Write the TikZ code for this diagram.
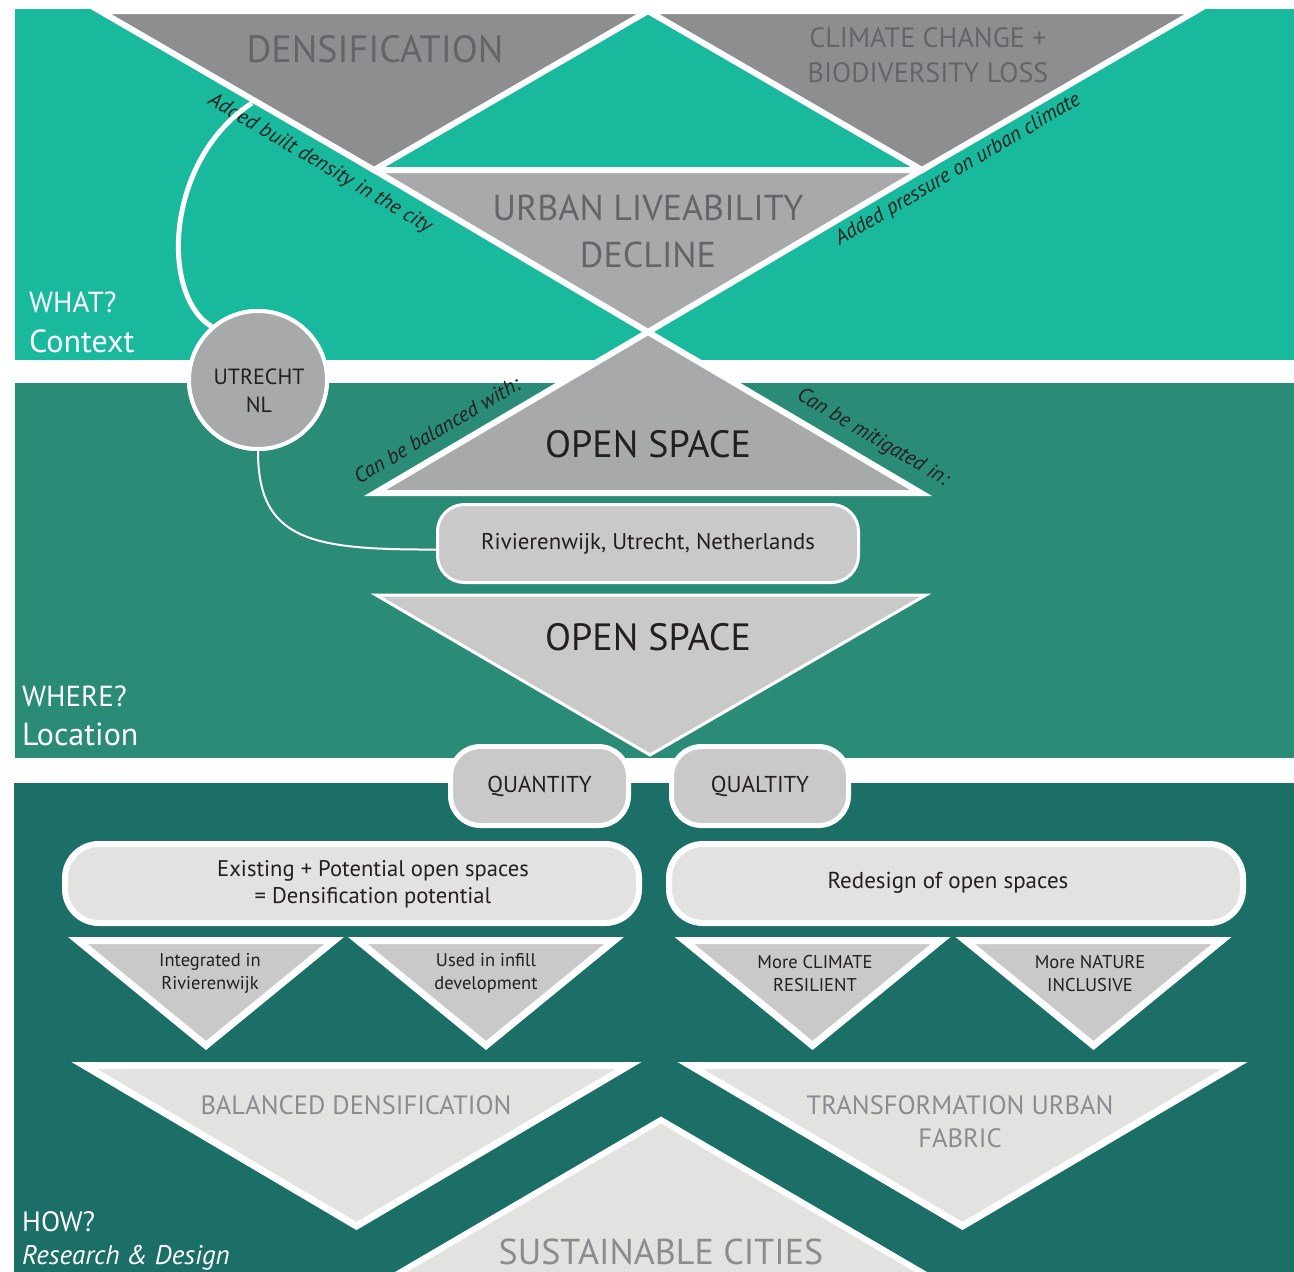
\documentclass[tikz,border=0pt]{standalone}
\usepackage{fontspec}
\setmainfont{PT Sans}
\definecolor{tealA}{HTML}{19B99D}
\definecolor{tealB}{HTML}{2A8B77}
\definecolor{tealC}{HTML}{1B6F66}
\definecolor{greyA}{HTML}{8D8E90}
\definecolor{greyB}{HTML}{A7A9AA}
\definecolor{greyC}{HTML}{C8C9C8}
\definecolor{greyD}{HTML}{E2E2E1}
\definecolor{inkdark}{HTML}{231F20}
\definecolor{inkmid}{HTML}{646568}
\definecolor{inklight}{HTML}{8B8C8F}
\newcommand{\fs}[2]{\fontsize{#1}{#2}\selectfont}
\begin{document}
\begin{tikzpicture}[x=1pt,y=-1pt,
  bigtri/.style={draw=white,line width=6pt,line join=miter},
  lowtri/.style={fill=greyC,draw=white,line width=7pt,line join=miter},
  endtri/.style={fill=greyD,draw=white,line width=7pt,line join=miter},
  pill/.style={rounded corners=#1,draw=white,inner sep=0pt},
  sidetxt/.style={text=white,anchor=base west,inner sep=0pt},
  lbl/.style={text=inkdark,font=\fs{21}{24}\itshape,inner sep=0pt},
  title/.style={align=center,inner sep=0pt}]
\useasboundingbox (0,0) rectangle (1294,1272);
\clip (0,0) rectangle (1294,1272);
\fill[white] (0,0) rectangle (1294,1272);

% three bands
\fill[tealA] (15,9) rectangle (1294,360);
\fill[tealB] (15,383) rectangle (1294,758);
\fill[tealC] (14,783) rectangle (1294,1272);

% end of the connector on the densification line
\coordinate (densjoin) at (252,103);

% WHAT? triangles
\filldraw[bigtri,fill=greyA] (100,11) -- (648,11) -- (374,170) -- cycle;
\filldraw[bigtri,fill=greyA] (648,11) -- (1196,11) -- (922,170) -- cycle;
\filldraw[bigtri,fill=greyB] (374,170) -- (922,170) -- (648,332) -- cycle;
\filldraw[bigtri,fill=greyB] (648,332) -- (921,493) -- (375,493) -- cycle;

\node[title,text=inkmid,font=\fs{38}{40}] (dens) at (375,49) {DENSIFICATION};
\node[title,text=inkmid,font=\fs{28}{35}] (clim) at (928,55) {CLIMATE CHANGE +\\BIODIVERSITY LOSS};
\node[title,text=inkmid,font=\fs{36}{47}] (urban) at (648,231) {URBAN LIVEABILITY\\DECLINE};
\node[title,text=inkdark,font=\fs{38}{40}] (open1) at (648,444) {OPEN SPACE};

\node[lbl,rotate=-30.5] (lblA) at (320,164) {Added built density in the city};
\node[lbl,rotate=30.5] (lblB) at (958,170) {Added pressure on urban climate};
\node[lbl,rotate=30.5] (lblC) at (437,430) {Can be balanced with:};
\node[lbl,rotate=-30.5] (lblD) at (873,438) {Can be mitigated in:};

% WHERE?
\filldraw[fill=greyC,draw=white,line width=3pt,line join=miter] (376,595) -- (926,595) -- (650,755) -- cycle;
\node[title,text=inkdark,font=\fs{38}{40}] (open2) at (648,637) {OPEN SPACE};

\node[pill=27pt,fill=greyC,line width=3pt,minimum width=421pt,minimum height=78pt,
      text=inkdark,font=\fs{22.8}{26}] (river) at (648,543.5) {Rivierenwijk, Utrecht, Netherlands};

\node[circle,fill=greyB,draw=white,line width=4pt,minimum size=138pt,inner sep=0pt] (utrecht) at (258,380) {};
\draw[white,line width=5pt] (utrecht.131) .. controls (160,295) and (165,160) .. (densjoin);
\draw[white,line width=2pt] (utrecht.south) .. controls (258,540) and (310,550) .. ([yshift=-6pt]river.west);
\node[circle,fill=greyB,draw=white,line width=4pt,minimum size=138pt,inner sep=0pt] at (utrecht) {};
\node[title,text=inkdark,font=\fs{22}{28}] (utrtext) at (259,391) {UTRECHT\\NL};

% HOW?
\node[pill=30pt,fill=greyC,line width=5pt,minimum width=178pt,minimum height=79pt,
      text=inkdark,font=\fs{23}{26}] (quant) at (539.5,786) {QUANTITY};
\node[pill=30pt,fill=greyC,line width=5pt,minimum width=177pt,minimum height=79pt,
      text=inkdark,font=\fs{23}{26}] (qual) at (760,786) {QUALTITY};

\node[pill=34pt,fill=greyD,line width=6pt,minimum width=574pt,minimum height=79pt] (exist) at (352,883.5) {};
\node[title,text=inkdark,font=\fs{22.6}{27}] (existtxt) at (373,884.5) {Existing + Potential open spaces\\= Densification potential};
\node[pill=34pt,fill=greyD,line width=6pt,minimum width=574pt,minimum height=79pt] (redes) at (956,883.5) {};
\node[title,text=inkdark,font=\fs{23}{26}] (redestxt) at (948,883) {Redesign of open spaces};

\filldraw[lowtri] (77.8,940.5) -- (334.2,940.5) -- (206,1045.5) -- cycle;
\filldraw[lowtri] (357.8,940.5) -- (614.2,940.5) -- (486,1045.5) -- cycle;
\filldraw[lowtri] (684.3,940.5) -- (940.7,940.5) -- (812.5,1045.5) -- cycle;
\filldraw[lowtri] (965.3,940.5) -- (1221.7,940.5) -- (1093.5,1045.5) -- cycle;
\node[title,text=inkdark,font=\fs{18.5}{23}] (integ) at (210,973.5) {Integrated in\\Rivierenwijk};
\node[title,text=inkdark,font=\fs{18.5}{23}] (infill) at (486,973.5) {Used in infill\\development};
\node[title,text=inkdark,font=\fs{18.5}{23}] (resil) at (815,973.5) {More CLIMATE\\RESILIENT};
\node[title,text=inkdark,font=\fs{18.5}{23}] (natur) at (1090,973.5) {More NATURE\\INCLUSIVE};

\filldraw[endtri] (84.3,1065.5) -- (628.7,1065.5) -- (356.5,1226) -- cycle;
\filldraw[endtri] (690.3,1065.5) -- (1234.7,1065.5) -- (962.5,1226) -- cycle;
\filldraw[endtri,line width=6pt] (661,1120) -- (969,1300) -- (353,1300) -- cycle;
\node[title,text=inklight,font=\fs{26.5}{33}] (balanced) at (356,1105) {BALANCED DENSIFICATION};
\node[title,text=inklight,font=\fs{26.5}{33}] (transf) at (960,1121.5) {TRANSFORMATION URBAN\\FABRIC};
\node[title,text=inklight,font=\fs{36}{40}] (sustain) at (661,1252) {SUSTAINABLE CITIES};

% band captions
\node[sidetxt,font=\fs{29}{34}] (what) at (29,312) {WHAT?};
\node[sidetxt,font=\fs{32}{34}] (context) at (29,352) {Context};
\node[sidetxt,font=\fs{29}{34}] (where) at (22,706) {WHERE?};
\node[sidetxt,font=\fs{32}{34}] (location) at (22,745) {Location};
\node[sidetxt,font=\fs{28}{34}] (how) at (22,1231) {HOW?};
\node[sidetxt,font=\fs{27}{30}\itshape] (resdes) at (22,1264) {Research \& Design};
\end{tikzpicture}
\end{document}
